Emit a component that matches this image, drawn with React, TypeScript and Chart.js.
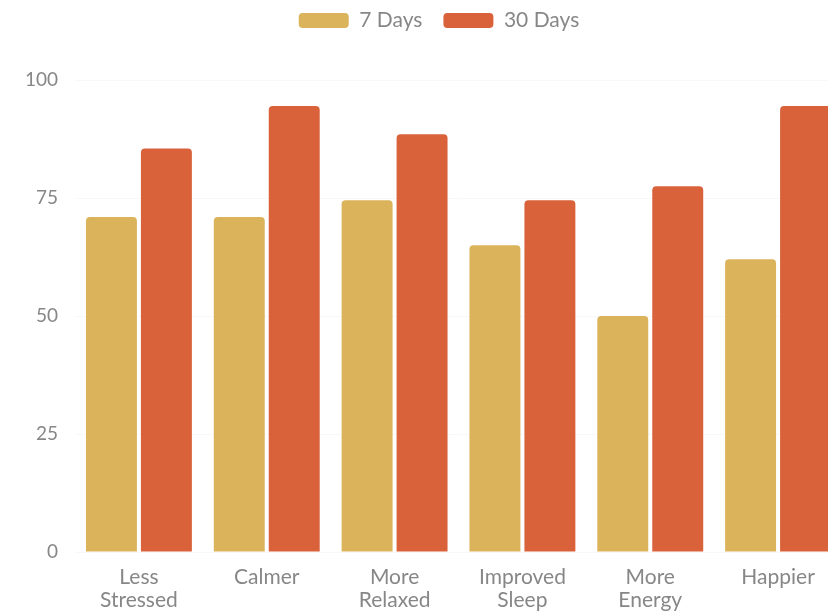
import React, { useEffect, useRef } from "react";
import { Chart, registerables } from "chart.js";

Chart.register(...registerables);

const categories: string[][] = [
  ["Less", "Stressed"],
  ["Calmer"],
  ["More", "Relaxed"],
  ["Improved", "Sleep"],
  ["More", "Energy"],
  ["Happier"],
];
const seriesNames = ["7 Days", "30 Days"];
const sevenDays = [71, 71, 74.5, 65, 50, 62];
const thirtyDays = [85.5, 94.5, 88.5, 74.5, 77.5, 94.5];
const yTicks = [0, 25, 50, 75, 100];

const GOLD = "#dbb35b";
const ORANGE = "#d9623b";
const GREY = "#878787";

const legendPlacement = {
  id: "legendPlacement",
  beforeInit(chart: any) {
    const legend = chart.legend;
    if (!legend) return;
    const origFit = legend.fit;
    legend.fit = function () {
      origFit.call(this);
      this.height = 80;
    };
  },
  afterLayout(chart: any) {
    const lg = chart.legend;
    if (lg) {
      lg.top = -11;
      lg.left += 18;
      lg.right += 18;
    }
  },
};

export default function App() {
  const ref = useRef<HTMLCanvasElement | null>(null);

  useEffect(() => {
    if (!ref.current) return;
    Chart.defaults.font.family = "Lato, 'Noto Sans', sans-serif";
    const chart = new Chart(ref.current, {
      type: "bar",
      data: {
        labels: categories,
        datasets: [
          {
            label: seriesNames[0],
            data: sevenDays,
            backgroundColor: GOLD,
            borderRadius: 4,
            borderSkipped: "start",
            categoryPercentage: 0.86,
            barPercentage: 0.927,
          },
          {
            label: seriesNames[1],
            data: thirtyDays,
            backgroundColor: ORANGE,
            borderRadius: 4,
            borderSkipped: "start",
            categoryPercentage: 0.86,
            barPercentage: 0.927,
          },
        ],
      },
      options: {
        responsive: false,
        animation: false,
        layout: { padding: { left: 0, right: 36, top: 0, bottom: 0 } },
        plugins: {
          tooltip: { enabled: false },
          legend: {
            position: "top",
            labels: {
              color: GREY,
              font: { size: 21 },
              boxWidth: 50,
              boxHeight: 15,
              padding: 21,
              useBorderRadius: true,
              borderRadius: 4,
            },
          },
        },
        scales: {
          x: {
            grid: { display: false },
            border: { display: false },
            ticks: {
              color: GREY,
              font: { size: 21, lineHeight: 1.1 },
              padding: 6,
              maxRotation: 0,
              autoSkip: false,
            },
            afterFit(scale: any) {
              scale.height = 80;
            },
          },
          y: {
            min: 0,
            max: 100,
            grid: { color: "#f8f8f8", drawTicks: false },
            border: { display: false },
            afterBuildTicks(scale: any) {
              scale.ticks = yTicks.map((v) => ({ value: v }));
            },
            ticks: {
              color: GREY,
              font: { size: 19 },
              padding: 17,
            },
            afterFit(scale: any) {
              scale.width = 75;
            },
          },
        },
      },
      plugins: [legendPlacement],
    });
    return () => chart.destroy();
  }, []);

  return (
    <div
      style={{
        position: "fixed",
        left: 0,
        top: 0,
        width: 828,
        height: 613,
        overflow: "hidden",
        background: "#fff",
      }}
    >
      <canvas ref={ref} width={878} height={632} style={{ display: "block" }} />
    </div>
  );
}
